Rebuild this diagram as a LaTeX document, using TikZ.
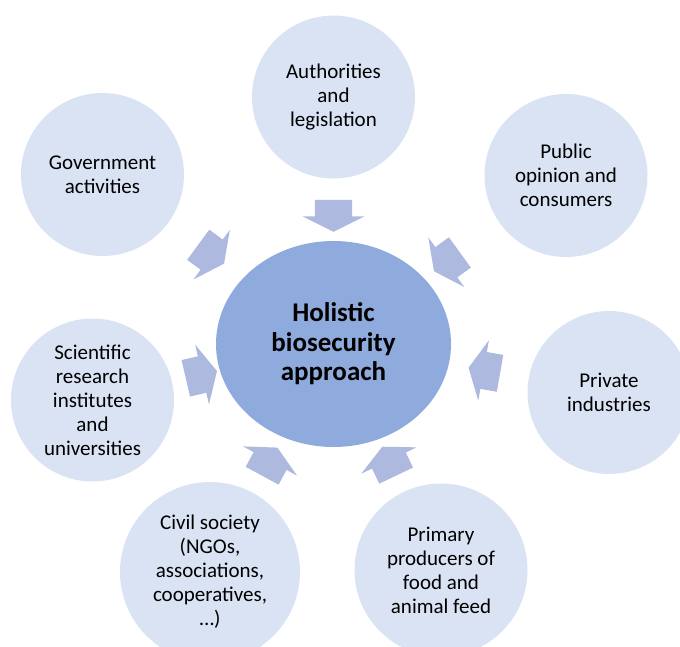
\documentclass[tikz,border=0pt]{standalone}
\usepackage{fontspec}
\setmainfont{Carlito}
\usetikzlibrary{shapes.geometric,shapes.arrows}

\definecolor{ringfill}{HTML}{DAE3F3}
\definecolor{hubfill}{HTML}{8FAADC}
\definecolor{pushfill}{HTML}{ADB9DE}

\tikzset{
  actor/.style={circle, fill=ringfill, inner sep=0pt, minimum size=163pt,
    align=center, font=\fontsize{21}{24}\selectfont},
  hub/.style={ellipse, fill=hubfill, inner sep=0pt, minimum width=235pt,
    minimum height=206pt, align=center, font=\fontsize{27}{29.5}\selectfont\bfseries},
  push/.style={single arrow, fill=pushfill, inner sep=0pt, text height=37pt,
    text depth=0pt, minimum height=32pt, single arrow head extend=12pt,
    single arrow tip angle=127, sloped, allow upside down},
}

\begin{document}
\begin{tikzpicture}[x=1pt,y=-1pt]
\clip (0,0) rectangle (680,646);

% centre
\node[hub] (hub) at (333.5,344) {Holistic\\biosecurity\\approach};

% actors round it
\node[actor] (auth) at (333.5,97) {Authorities\\and\\legislation};
\node[actor] (gov) at (102.5,174.5) {Government\\activities};
\node[actor] (public) at (566,175.5) {Public\\opinion and\\consumers};
\node[actor] (private) at (609,392.5) {Private\\industries};
\node[actor, minimum size=173pt] (primary) at (441,570) {Primary\\producers of\\food and\\animal feed};
\node[actor, minimum size=180pt] (civil) at (210,572) {Civil society\\(NGOs,\\associations,\\cooperatives,\\\dots)};
\node[actor] (science) at (92.5,400) {Scientific\\research\\institutes\\and\\universities};

% arrows into the centre
\path (auth.center) -- (hub.center) node[push, pos=0.462] (pauth) {};
\path (gov.center) -- (hub.center) node[push, pos=0.454] (pgov) {};
\path (public.center) -- (hub.center) node[push, pos=0.496] (ppublic) {};
\path (private.center) -- (hub.center) node[push, pos=0.436] (pprivate) {};
\path (primary.center) -- (hub.center) node[push, pos=0.463] (pprimary) {};
\path (civil.center) -- (hub.center) node[push, pos=0.466] (pcivil) {};
\path (science.center) -- (hub.center) node[push, pos=0.433] (pscience) {};
\end{tikzpicture}
\end{document}
